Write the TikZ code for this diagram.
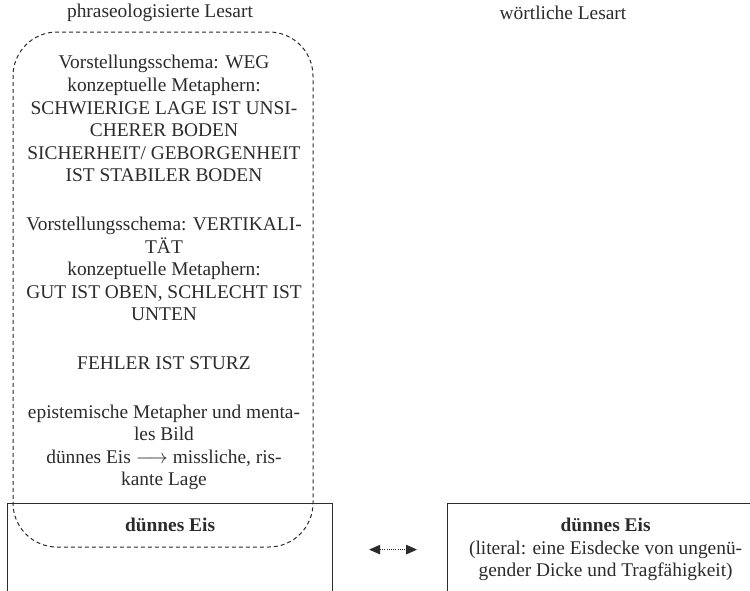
\documentclass[tikz,border=0pt]{standalone}
\usepackage{fontspec}
\setmainfont{Liberation Serif}
\usepackage{tikz}
\usetikzlibrary{arrows.meta,positioning}
\definecolor{ink}{HTML}{2B2B2B}
\newcommand{\boxfont}{\fontsize{9.7}{11.3}\selectfont}

\begin{document}
\begin{tikzpicture}[x=0.5pt,y=-0.5pt,
  every node/.style={text=ink,font=\boxfont},
  frame/.style={draw=ink,line width=0.6pt,inner sep=4pt},
  metaframe/.style={draw=ink,line width=0.5pt,dash pattern=on 2pt off 1.5pt,rounded corners=22pt},
  link/.style={draw=ink,line width=0.4pt,dash pattern=on 0.5pt off 0.6pt,{Triangle[length=5.5pt,width=4.8pt]}-{Triangle[length=5.5pt,width=4.8pt]}}]
\useasboundingbox (0,0) rectangle (750,590);
\clip (0,0) rectangle (750,590);

% Kopfzeilen
\node (phrhead) at (160,13) {phraseologisierte Lesart};
\node (lithead) at (563,13) {wörtliche Lesart};

% untere Kästen
\node[frame,minimum width=162.5pt,minimum height=46pt,anchor=north west] (phrbox) at (7,503) {};
\node[font=\boxfont\bfseries,below=4pt of phrbox.north] (phrlabel) {dünnes Eis};
\node[frame,minimum width=158pt,minimum height=46pt,anchor=north west,align=center] (litbox) at (447,503)
  {\textbf{dünnes Eis}\\(literal: eine Eisdecke von ungenü-\\gender Dicke und Tragfähigkeit)};

% Metaphern der phraseologisierten Lesart
\node[metaframe,minimum width=150pt,minimum height=257.5pt] (metabox) at (163,289.5) {};
\node[align=center,inner sep=0pt,anchor=north] (metatext) at (164,55) {%
  Vorstellungsschema: WEG\\
  konzeptuelle Metaphern:\\
  SCHWIERIGE LAGE IST UNSI-\\
  CHERER BODEN\\
  SICHERHEIT/ GEBORGENHEIT\\
  IST STABILER BODEN\\[13pt]
  Vorstellungsschema: VERTIKALI-\\
  TÄT\\
  konzeptuelle Metaphern:\\
  GUT IST OBEN, SCHLECHT IST\\
  UNTEN\\[13pt]
  FEHLER IST STURZ\\[13pt]
  epistemische Metapher und menta-\\
  les Bild\\
  dünnes Eis $\longrightarrow$ missliche, ris-\\
  kante Lage};

\draw[link,shorten <=18pt,shorten >=15pt] (phrbox) -- (litbox);
\end{tikzpicture}
\end{document}
